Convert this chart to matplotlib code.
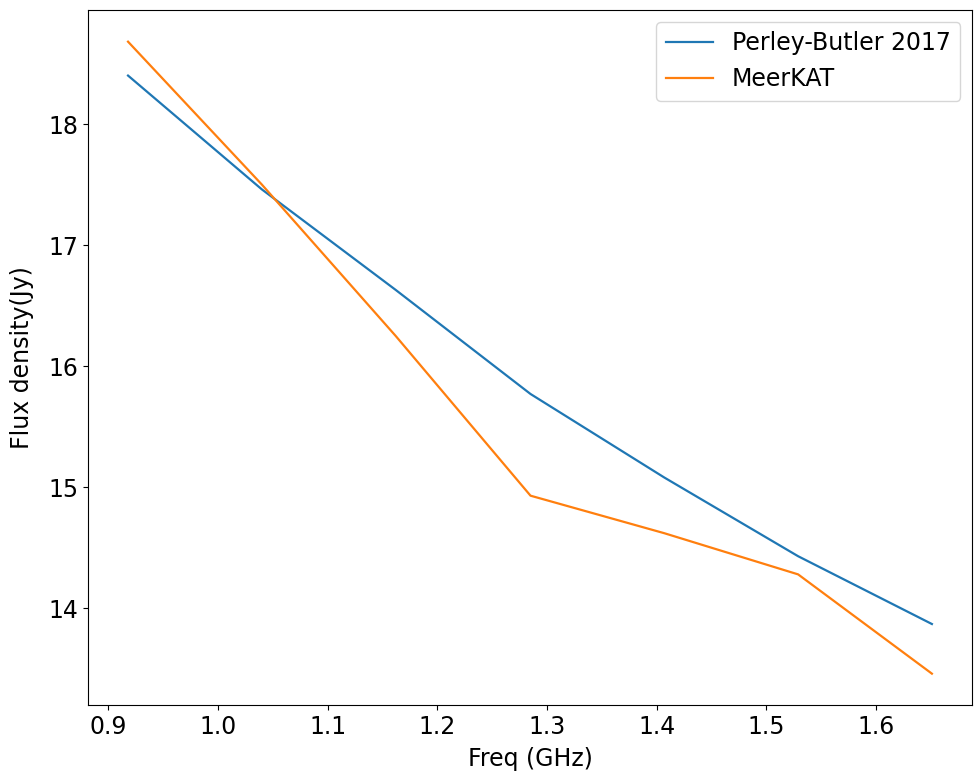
import matplotlib
matplotlib.use("Agg")
import matplotlib.pyplot as plt

# Frequencies (GHz) of the sub-bands
freq_ghz = [0.918, 1.040, 1.162, 1.285, 1.407, 1.529, 1.651]

# Flux density (Jy) from the Perley-Butler 2017 model
flux_pb2017 = [18.40, 17.46, 16.63, 15.77, 15.08, 14.43, 13.87]

# Flux density (Jy) measured with MeerKAT
flux_meerkat = [18.68, 17.50, 16.25, 14.93, 14.62, 14.28, 13.46]

fig = plt.figure(figsize=(9.76, 7.75), dpi=100)
ax = fig.add_axes([0.090, 0.090, 0.906, 0.897])

ax.plot(freq_ghz, flux_pb2017, color="#1f77b4", lw=1.6, label="Perley-Butler 2017")
ax.plot(freq_ghz, flux_meerkat, color="#ff7f0e", lw=1.6, label="MeerKAT")

ax.set_xlabel("Freq (GHz)", fontsize=17, labelpad=6)
ax.set_ylabel("Flux density(Jy)", fontsize=17, labelpad=10)
ax.tick_params(labelsize=17)
ax.legend(loc="upper right", fontsize=17)

fig.savefig("out.png", dpi=100)
